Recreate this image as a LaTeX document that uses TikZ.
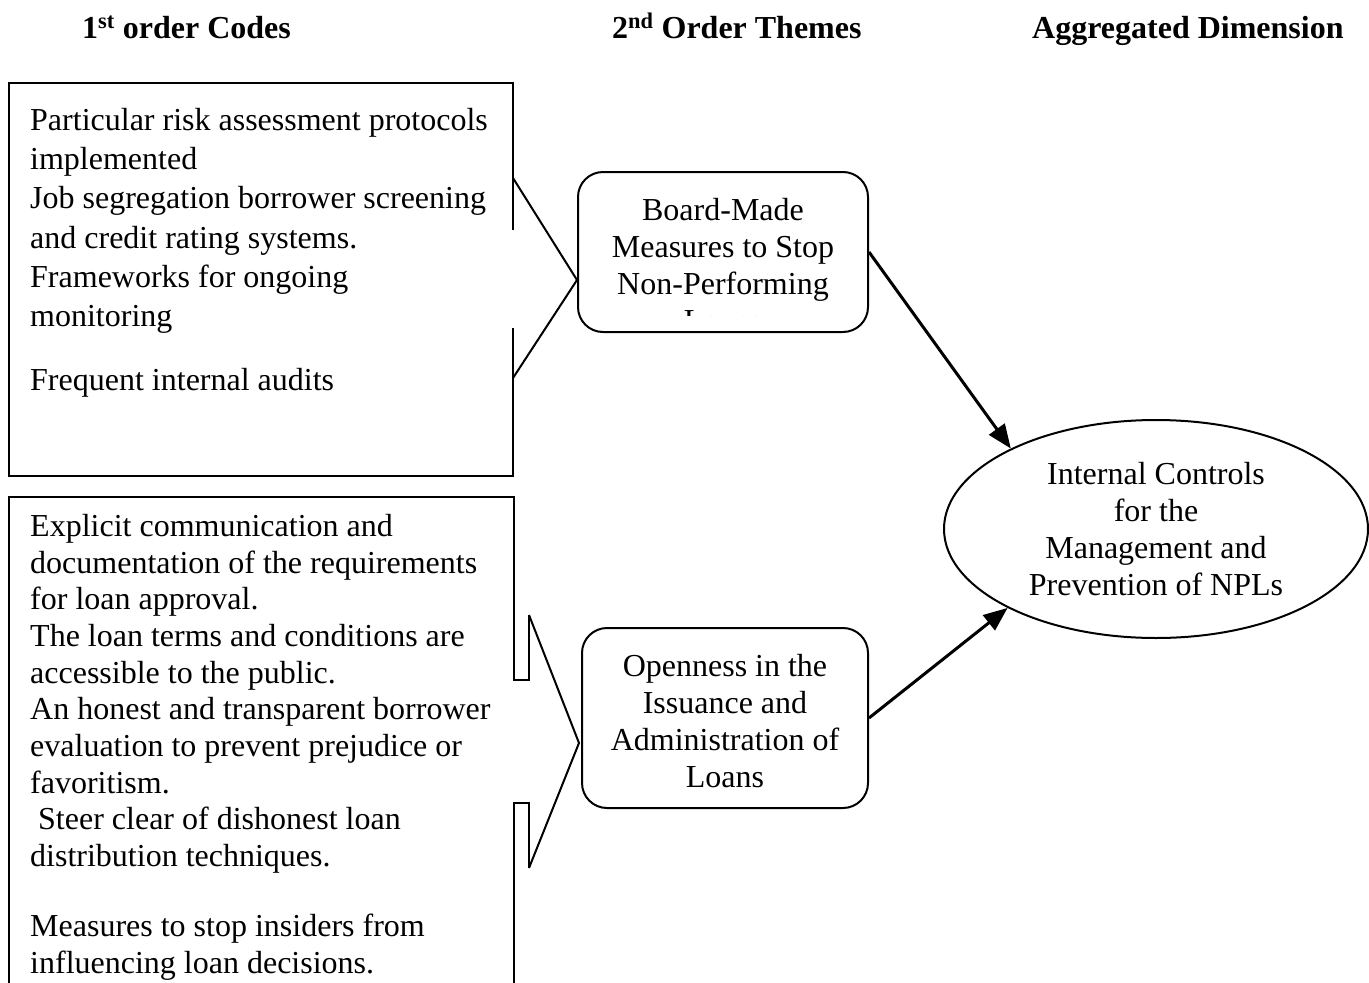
\documentclass[tikz,border=0pt]{standalone}
\usepackage{fontspec}
\setmainfont{Liberation Serif}
\usetikzlibrary{arrows.meta,shapes.geometric,calc}
\begin{document}
\begin{tikzpicture}[x=1pt,y=-1pt,
  lw/.style={line width=2pt, line join=miter},
  body/.style={font=\fontsize{32}{39.3}\selectfont, align=left, inner sep=0pt, anchor=base west},
  hdr/.style={font=\fontsize{32}{38}\selectfont\bfseries, inner sep=0pt, anchor=base west},
  theme/.style={draw, line width=2pt, rounded corners=25pt, inner sep=0pt},
  ctext/.style={font=\fontsize{32}{36.7}\selectfont, align=center, inner sep=0pt},
  arr/.style={line width=3pt, -{Triangle[length=24pt,width=19pt]}}
]
\useasboundingbox (0,0) rectangle (1369,983);
\clip (0,0) rectangle (1369,983);

% headers
\node[hdr] (h1) at (82,38) {1\textsuperscript{st} order Codes};
\node[hdr] (h2) at (612,38) {2\textsuperscript{nd} Order Themes};
\node[hdr] (h3) at (1032,38) {Aggregated Dimension};

% first order code box 1
\draw[lw] (513,230) -- (513,83) -- (9,83) -- (9,476) -- (513,476) -- (513,328);
\coordinate (b1u) at (513,178);
\coordinate (b1l) at (513,378);
\node[body] (c1) at (30,390) {Particular risk assessment protocols\\implemented\\Job segregation borrower screening\\and credit rating systems.\\Frameworks for ongoing\\monitoring\\[24pt]Frequent internal audits};

% first order code box 2
\draw[lw] (9,995) -- (9,497) -- (514,497) -- (514,680) -- (529,680) -- (529,615);
\draw[lw] (529,868) -- (529,803) -- (514,803) -- (514,995);
\coordinate (b2u) at (529,615);
\coordinate (b2l) at (529,868);
\node[body, font=\fontsize{32}{36.7}\selectfont] (c2) at (30,973) {Explicit communication and\\documentation of the requirements\\for loan approval.\\The loan terms and conditions are\\accessible to the public.\\An honest and transparent borrower\\evaluation to prevent prejudice or\\favoritism.\\\hspace*{8pt}Steer clear of dishonest loan\\distribution techniques.\\[33pt]Measures to stop insiders from\\influencing loan decisions.};

% second order themes
\node[theme, minimum width=290pt, minimum height=160pt] (t1) at (723,252) {};
\begin{scope}
  \clip (590,185) rectangle (860,315);
  \node[ctext, anchor=base] (t1txt) at (723,331) {Board-Made\\Measures to Stop\\Non-Performing\\Loans};
\end{scope}
\node[theme, minimum width=286pt, minimum height=180pt] (t2) at (725,718) {};
\node[ctext, anchor=base] (t2txt) at (725,787) {Openness in the\\Issuance and\\Administration of\\Loans};

% aggregated dimension
\node[draw, ellipse, line width=2pt, minimum width=424pt, minimum height=218pt, inner sep=0pt] (agg) at (1156,529) {};
\node[ctext, anchor=base] (aggtxt) at (1156,595) {Internal Controls\\for the\\Management and\\Prevention of NPLs};

% bracket connectors
\draw[lw] (b1u) -- ($(t1.west)+(0,28)$) -- (b1l);
\draw[lw] (b2u) -- ($(t2.west)+(-2,25)$) -- (b2l);

% arrows
\draw[arr] (t1.east) -- (agg.151);
\draw[arr] (t2.east) -- (agg.208);
\end{tikzpicture}
\end{document}
